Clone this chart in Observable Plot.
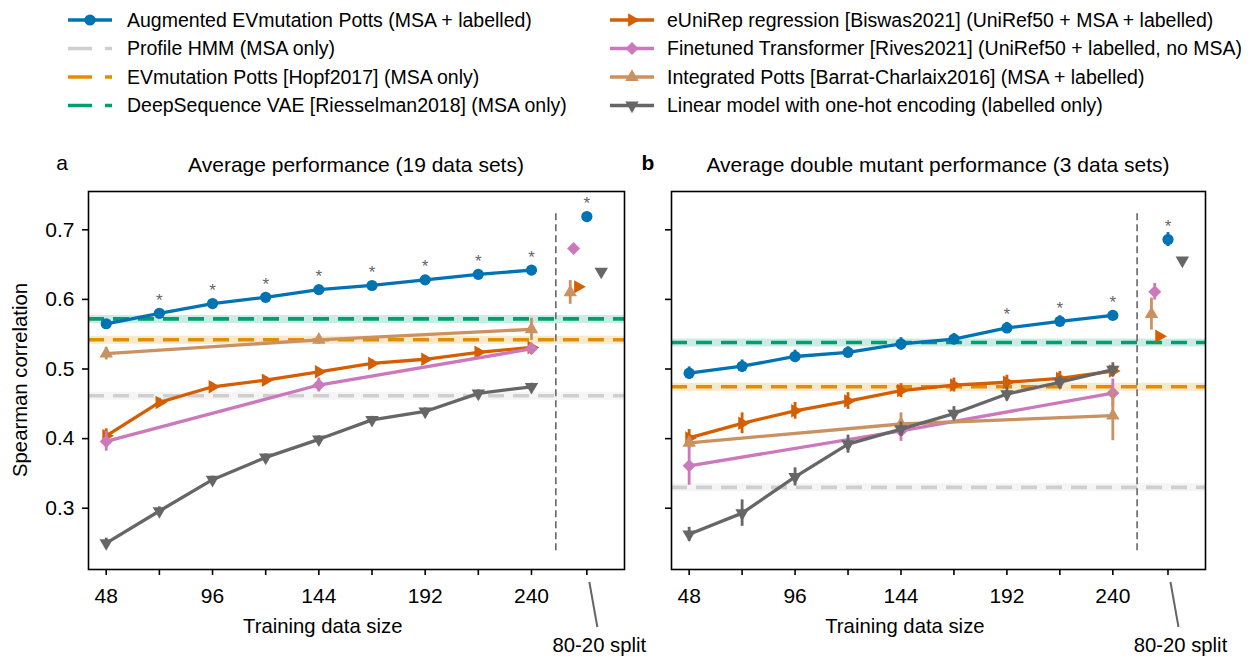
<!DOCTYPE html>
<html><head><meta charset="utf-8">
<script src="https://cdn.jsdelivr.net/npm/d3@7"></script>
<script src="https://cdn.jsdelivr.net/npm/@observablehq/plot@0.6"></script>
<style>
body{margin:0;background:#fff;}
#root{position:relative;width:1254px;height:656px;overflow:hidden;font-family:"Liberation Sans",Arial,sans-serif;}
#root svg{position:absolute;overflow:visible;}
</style></head><body><div id="root"></div>
<script>
// ---------- data ----------
const sizes = [48, 72, 96, 120, 144, 168, 192, 216, 240];
const sparseSizes = [48, 144, 240];
const xTicks = [48, 72, 96, 120, 144, 168, 192, 216, 240];
const xTickLabels = [48, 96, 144, 192, 240];
const yTicks = [0.3, 0.4, 0.5, 0.6, 0.7];
const splitX = 265;          // "80-20 split" position
const splitLineX = 251;      // vertical separator
const splitPos = {aug: 265, eunirep: 261, finetuned: 259, integrated: 257.5, linear: 271.5};

const seriesNames = ["Augmented EVmutation Potts (MSA + labelled)", "Profile HMM (MSA only)", "EVmutation Potts [Hopf2017] (MSA only)", "DeepSequence VAE [Riesselman2018] (MSA only)", "eUniRep regression [Biswas2021] (UniRef50 + MSA + labelled)", "Finetuned Transformer [Rives2021] (UniRef50 + labelled, no MSA)", "Integrated Potts [Barrat-Charlaix2016] (MSA + labelled)", "Linear model with one-hot encoding (labelled only)"];

// Panel a
const augA = [0.565, 0.580, 0.594, 0.603, 0.614, 0.620, 0.628, 0.636, 0.642];
const augAErr = [0.004, 0.003, 0.003, 0.003, 0.003, 0.003, 0.003, 0.003, 0.003];
const eunirepA = [0.404, 0.452, 0.4745, 0.484, 0.496, 0.508, 0.514, 0.524, 0.531];
const eunirepAErr = [0.01, 0.006, 0.005, 0.005, 0.005, 0.005, 0.005, 0.005, 0.005];
const finetunedA = [0.396, 0.477, 0.529];
const finetunedAErr = [0.014, 0.01, 0.008];
const integratedA = [0.522, 0.542, 0.557];
const integratedAErr = [0.009, 0.006, 0.016];
const linearA = [0.250, 0.296, 0.341, 0.373, 0.399, 0.427, 0.439, 0.465, 0.4745];
const linearAErr = [0.007, 0.006, 0.005, 0.005, 0.005, 0.005, 0.005, 0.005, 0.005];
const hmmA = 0.4616, evmA = 0.542, vaeA = 0.572;
const splitA = {aug: 0.719, eunirep: 0.618, finetuned: 0.673, integrated: 0.610, linear: 0.640};
const splitAErr = {aug: 0.004, eunirep: 0.004, finetuned: 0.004, integrated: 0.017, linear: 0.003};
const starsA = [72, 96, 120, 144, 168, 192, 216, 240];

// Panel b
const augB = [0.494, 0.504, 0.518, 0.524, 0.536, 0.543, 0.559, 0.5685, 0.577];
const augBErr = [0.009, 0.009, 0.009, 0.008, 0.009, 0.008, 0.008, 0.008, 0.007];
const eunirepB = [0.401, 0.422, 0.440, 0.454, 0.469, 0.477, 0.481, 0.4865, 0.497];
const eunirepBErr = [0.012, 0.015, 0.012, 0.012, 0.01, 0.01, 0.01, 0.01, 0.008];
const finetunedB = [0.361, 0.411, 0.4655];
const finetunedBErr = [0.028, 0.015, 0.02];
const integratedB = [0.394, 0.421, 0.433];
const integratedBErr = [0.008, 0.016, 0.036];
const linearB = [0.2626, 0.293, 0.345, 0.392, 0.4137, 0.436, 0.464, 0.481, 0.499];
const linearBErr = [0.01, 0.019, 0.013, 0.013, 0.01, 0.01, 0.01, 0.008, 0.01];
const hmmB = 0.330, evmB = 0.4745, vaeB = 0.538;
const splitB = {aug: 0.686, eunirep: 0.547, finetuned: 0.611, integrated: 0.579, linear: 0.656};
const splitBErr = {aug: 0.01, eunirep: 0.003, finetuned: 0.012, integrated: 0.023, linear: 0.003};
const starsB = [192, 216, 240];

// ---------- styling ----------
const colors = {aug: "#0173b2", hmm: "#cfcfcf", evm: "#de8f05", vae: "#029e73", eunirep: "#d55e00", finetuned: "#cc78bc", integrated: "#ca9161", linear: "#666666"};
function tri(angle) {
  return {draw(ctx, size) {
    const s = Math.sqrt(size * 4 / Math.sqrt(3)), R = s / Math.sqrt(3);
    for (let i = 0; i < 3; i++) {
      const a = angle + i * 2 * Math.PI / 3, x = R * Math.sin(a), y = -R * Math.cos(a);
      i ? ctx.lineTo(x, y) : ctx.moveTo(x, y);
    }
    ctx.closePath();
  }};
}
const diamond = {draw(ctx, size) { const h = Math.sqrt(size / 2); ctx.moveTo(0, -h); ctx.lineTo(h, 0); ctx.lineTo(0, h); ctx.lineTo(-h, 0); ctx.closePath(); }};
const circleSym = {draw(ctx, size) { const r = Math.sqrt(size / Math.PI); ctx.moveTo(r, 0); ctx.arc(0, 0, r, 0, 2 * Math.PI); }};
const symbols = {aug: circleSym, eunirep: tri(Math.PI / 2), finetuned: diamond, integrated: tri(0), linear: tri(Math.PI)};
const symR = {aug: 5.6, eunirep: 5.0, finetuned: 5.2, integrated: 5.0, linear: 5.0};
const FONT = '"Liberation Sans", Arial, sans-serif';
const FS = 19.5, FS_TITLE = 21, FS_TICK = 21, FS_LABEL = 20.3;

function rows(xs, ys, errs) { return xs.map((x, i) => ({x, y: ys[i], err: errs[i]})); }

function panel(cfg) {
  const marks = [];
  const hl = [{k: "hmm", v: cfg.hmm}, {k: "evm", v: cfg.evm}, {k: "vae", v: cfg.vae}];
  marks.push(Plot.ruleY(hl, {y: "v", stroke: d => colors[d.k], strokeOpacity: 0.2, strokeWidth: 8}));
  marks.push(Plot.ruleY(hl, {y: "v", stroke: d => colors[d.k], strokeWidth: 3.6, strokeDasharray: "16,9"}));
  marks.push(Plot.ruleX([splitLineX], {x: d => d, y1: 0.239, y2: 0.728, stroke: "#666", strokeWidth: 1.6, strokeDasharray: "7,4"}));
  const order = ["aug", "eunirep", "finetuned", "integrated", "linear"];
  for (const k of order) {
    const s = cfg.series[k];
    marks.push(Plot.line(s, {x: "x", y: "y", stroke: colors[k], strokeWidth: 3.3}));
    marks.push(Plot.ruleX(s, {x: "x", y1: d => d.y - d.err, y2: d => d.y + d.err, stroke: colors[k], strokeWidth: 2.8}));
    marks.push(Plot.dot(s, {x: "x", y: "y", fill: colors[k], stroke: "none", r: symR[k], symbol: symbols[k]}));
  }
  for (const k of order) {
    const d = [{x: splitPos[k], y: cfg.split[k], err: cfg.splitErr[k]}];
    marks.push(Plot.ruleX(d, {x: "x", y1: d => d.y - d.err, y2: d => d.y + d.err, stroke: colors[k], strokeWidth: 2.8}));
    marks.push(Plot.dot(d, {x: "x", y: "y", fill: colors[k], stroke: "none", r: symR[k], symbol: symbols[k]}));
  }
  const starRows = cfg.stars.map(x => ({x, y: cfg.series.aug.find(d => d.x === x).y})).concat([{x: splitPos.aug, y: cfg.split.aug}]);
  marks.push(Plot.text(starRows, {x: "x", y: "y", text: () => "*", fill: "#666", fontSize: 17, dy: -13}));
  marks.push(Plot.axisY({ticks: yTicks, tickFormat: cfg.yLabels ? d3.format(".1f") : () => "", tickSize: 6, tickPadding: 8, label: null, strokeWidth: 1.6, fontSize: FS_TICK}));
  marks.push(Plot.axisX({ticks: [...xTicks, splitX], tickFormat: d => xTickLabels.includes(d) ? String(d) : "", tickSize: 6, tickPadding: 13, label: null, strokeWidth: 1.6, fontSize: FS_TICK}));
  marks.push(Plot.frame({stroke: "black", strokeWidth: 1.6}));
  const p = Plot.plot({
    width: cfg.width, height: 516, marginLeft: cfg.ml, marginRight: cfg.mr, marginTop: 51, marginBottom: 87,
    x: {domain: [40, 282]}, y: {domain: [0.212, 0.755]},
    style: {fontFamily: FONT, fontSize: FS_TICK + "px", background: "transparent", color: "black"},
    marks
  });
  p.style.left = cfg.left + "px"; p.style.top = "140px";
  const sx = p.scale("x"), svg = d3.select(p);
  const fl = cfg.ml, fr = cfg.width - cfg.mr;
  svg.append("text").attr("x", (fl + fr) / 2).attr("y", 25).attr("dy", "0.35em").attr("text-anchor", "middle")
    .attr("font-size", FS_TITLE).attr("font-family", FONT).text(cfg.title);
  svg.append("text").attr("x", cfg.letterX).attr("y", 23).attr("dy", "0.35em").attr("font-size", FS_TITLE)
    .attr("font-weight", cfg.letterBold ? "bold" : "normal").attr("font-family", FONT).text(cfg.letter);
  svg.append("text").attr("x", sx.apply(146)).attr("y", 486).attr("dy", "0.35em").attr("text-anchor", "middle")
    .attr("font-size", FS_LABEL).attr("font-family", FONT).text("Training data size");
  const px = sx.apply(splitX);
  svg.append("line").attr("x1", px + 3).attr("y1", 442).attr("x2", px + 11).attr("y2", 487).attr("stroke", "#666").attr("stroke-width", 2);
  svg.append("text").attr("x", px + 13).attr("y", 505).attr("dy", "0.35em").attr("text-anchor", "middle")
    .attr("font-size", FS_LABEL).attr("font-family", FONT).text("80-20 split");
  if (cfg.yLabels) {
    svg.append("text").attr("transform", "translate(20,240) rotate(-90)").attr("dy", "0.35em").attr("text-anchor", "middle")
      .attr("font-size", FS_LABEL).attr("font-family", FONT).text("Spearman correlation");
  }
  return p;
}

const root = document.getElementById("root");
root.appendChild(panel({
  left: 0, width: 640, ml: 88, mr: 16, title: "Average performance (19 data sets)", letter: "a", letterX: 62, letterBold: false, yLabels: true,
  hmm: hmmA, evm: evmA, vae: vaeA, split: splitA, splitErr: splitAErr, stars: starsA,
  series: {aug: rows(sizes, augA, augAErr), eunirep: rows(sizes, eunirepA, eunirepAErr), finetuned: rows(sparseSizes, finetunedA, finetunedAErr), integrated: rows(sparseSizes, integratedA, integratedAErr), linear: rows(sizes, linearA, linearAErr)}
}));
root.appendChild(panel({
  left: 621, width: 626, ml: 50, mr: 42, title: "Average double mutant performance (3 data sets)", letter: "b", letterX: 27, letterBold: true, yLabels: false,
  hmm: hmmB, evm: evmB, vae: vaeB, split: splitB, splitErr: splitBErr, stars: starsB,
  series: {aug: rows(sizes, augB, augBErr), eunirep: rows(sizes, eunirepB, eunirepBErr), finetuned: rows(sparseSizes, finetunedB, finetunedBErr), integrated: rows(sparseSizes, integratedB, integratedBErr), linear: rows(sizes, linearB, linearBErr)}
}));

// ---------- legend ----------
const legendKeys = ["aug", "hmm", "evm", "vae", "eunirep", "finetuned", "integrated", "linear"];
const leg = d3.select(root).append("svg").attr("width", 1254).attr("height", 130).style("left", "0px").style("top", "0px");
legendKeys.forEach((k, i) => {
  const col = i < 4 ? 0 : 1, row = i % 4;
  const x0 = col ? 610 : 68, y = 20 + row * 28.5;
  const g = leg.append("g");
  if (symbols[k]) {
    g.append("line").attr("x1", x0).attr("x2", x0 + 44).attr("y1", y).attr("y2", y).attr("stroke", colors[k]).attr("stroke-width", 3.3);
    g.append("path").attr("transform", `translate(${x0 + 22},${y})`).attr("fill", colors[k])
      .attr("d", d3.symbol().type(symbols[k]).size(Math.PI * symR[k] * symR[k])());
  } else {
    g.append("line").attr("x1", x0).attr("x2", x0 + 44).attr("y1", y).attr("y2", y).attr("stroke", colors[k]).attr("stroke-width", 3.6).attr("stroke-dasharray", "24,13");
  }
  g.append("text").attr("x", col ? 667 : 127).attr("y", y).attr("dy", "0.35em").attr("font-size", FS).attr("font-family", FONT).text(seriesNames[i]);
});
</script></body></html>
